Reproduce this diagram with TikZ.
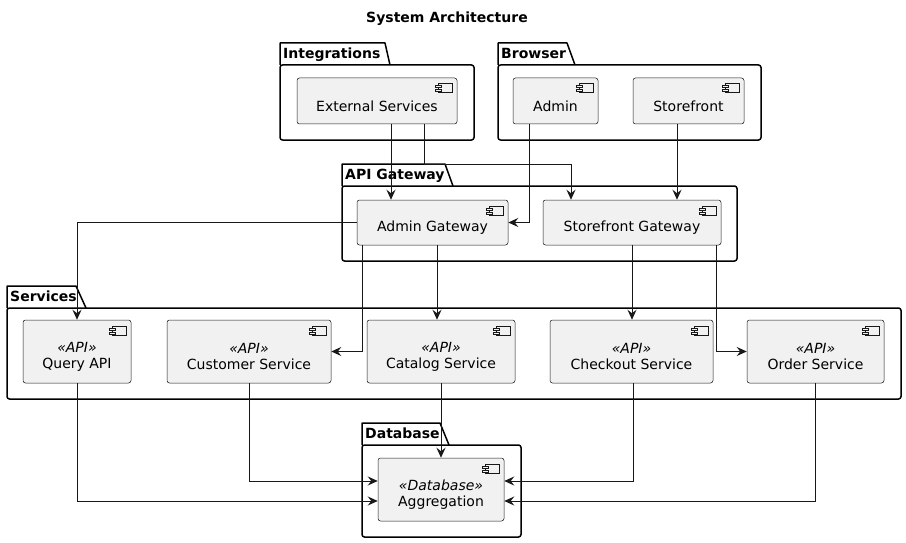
\documentclass[tikz,border=0pt]{standalone}
\usepackage{fontspec}
\setmainfont{DejaVu Sans}
\usetikzlibrary{arrows.meta}
\definecolor{compfill}{HTML}{F1F1F1}
\definecolor{ink}{HTML}{181818}
\tikzset{
  comp/.style={draw=ink, fill=compfill, line width=0.5pt, rounded corners=2.5pt, inner sep=0pt},
  txt/.style={inner sep=0pt, font=\fontsize{14pt}{16pt}\selectfont, align=center},
  pkgline/.style={draw=black, line width=1.5pt, line join=round},
  pkglabel/.style={inner sep=0pt, anchor=base west, font=\fontsize{14pt}{16pt}\selectfont\bfseries},
  conn/.style={draw=ink, line width=1pt, -{Stealth[length=10pt,width=9pt,inset=3.5pt]}},
  icon/.style={draw=ink, fill=compfill, line width=0.5pt}
}
\newcommand\compicon[1]{%
  \draw[icon] ([shift={(-19,6)}]#1.north east) rectangle ([shift={(-5,15)}]#1.north east);
  \draw[icon] ([shift={(-22,8)}]#1.north east) rectangle ([shift={(-16,10)}]#1.north east);
  \draw[icon] ([shift={(-22,12)}]#1.north east) rectangle ([shift={(-16,14)}]#1.north east);
}
\newcommand\pkgshape[8]{% x0 ytop ybody xt xs x1 ybot label
  \fill[white] (#1,#3) rectangle (#6,#7);
  \draw[pkgline] (#1,#3) -- (#1,#2) -- (#4,#2) -- (#5,#3);
  \draw[pkgline, rounded corners=2.5pt] (#1,#3) rectangle (#6,#7);
  \node[pkglabel] at (#1+3,#3-6.5) {#8};
}
\begin{document}
\begin{tikzpicture}[x=1pt,y=-1pt]
\useasboundingbox (0,0) rectangle (906,543);
\fill[white] (0,0) rectangle (906,543);

% title
\node[inner sep=0pt, anchor=base, font=\fontsize{14pt}{16pt}\selectfont\bfseries] (title) at (447,23) {System Architecture};

% packages
\pkgshape{280}{43}{65}{385}{390}{474}{140}{Integrations}
\pkgshape{498}{43}{65}{567}{575}{761}{140}{Browser}
\pkgshape{342}{164}{186}{445}{453}{737}{261}{API Gateway}
\pkgshape{7}{286}{308}{76}{86}{901}{399}{Services}
\pkgshape{362}{423}{445}{440}{449}{521}{537}{Database}

% components
\node[comp, minimum width=160pt, minimum height=46pt] (ext) at (377,101) {};
\node[comp, minimum width=85pt, minimum height=46pt] (admin) at (555.5,101) {};
\node[comp, minimum width=111pt, minimum height=46pt] (store) at (688.5,101) {};
\node[comp, minimum width=151pt, minimum height=45pt] (agw) at (432.5,222.5) {};
\node[comp, minimum width=178pt, minimum height=45pt] (sgw) at (632,222.5) {};
\node[comp, minimum width=108pt, minimum height=63pt] (query) at (77,351.5) {};
\node[comp, minimum width=164pt, minimum height=63pt] (cust) at (249,351.5) {};
\node[comp, minimum width=148pt, minimum height=63pt] (cat) at (441,351.5) {};
\node[comp, minimum width=163pt, minimum height=63pt] (chk) at (631.5,351.5) {};
\node[comp, minimum width=137pt, minimum height=63pt] (ord) at (815.5,351.5) {};
\node[comp, minimum width=126pt, minimum height=63pt] (agg) at (441,489.5) {};

\foreach \n in {ext,admin,store,agw,sgw,query,cust,cat,chk,ord,agg} {\compicon{\n}}

% texts
\node[txt] (extT) at ([yshift=-5pt]ext.center) {External Services};
\node[txt] (adminT) at ([yshift=-5pt]admin.center) {Admin};
\node[txt] (storeT) at ([yshift=-5pt]store.center) {Storefront};
\node[txt] (agwT) at ([yshift=-5pt]agw.center) {Admin Gateway};
\node[txt] (sgwT) at ([yshift=-5pt]sgw.center) {Storefront Gateway};
\node[txt] (queryT) at ([yshift=-5pt]query.center) {\textit{«API»}\\Query API};
\node[txt] (custT) at ([yshift=-5pt]cust.center) {\textit{«API»}\\Customer Service};
\node[txt] (catT) at ([yshift=-5pt]cat.center) {\textit{«API»}\\Catalog Service};
\node[txt] (chkT) at ([yshift=-5pt]chk.center) {\textit{«API»}\\Checkout Service};
\node[txt] (ordT) at ([yshift=-5pt]ord.center) {\textit{«API»}\\Order Service};
\node[txt] (aggT) at ([yshift=-5pt]agg.center) {\textit{«Database»}\\Aggregation};

% connectors
\draw[conn] ([xshift=14pt]ext.south) -- ([xshift=-41.5pt]agw.north);
\draw[conn] ([xshift=47pt]ext.south) -- ++(0,40) -| ([xshift=-61pt]sgw.north);
\draw[conn] ([xshift=-26.5pt]admin.south) |- (agw.east);
\draw[conn] ([xshift=-11.5pt]store.south) -- ([xshift=45pt]sgw.north);
\draw[conn] (agw.west) -| (query.north);
\draw[conn] ([xshift=-70.5pt]agw.south) |- (cust.east);
\draw[conn] ([xshift=4.5pt]agw.south) -- ([xshift=-4pt]cat.north);
\draw[conn] (sgw.south) -- (sgw.south |- chk.north);
\draw[conn] ([xshift=84pt]sgw.south) |- (ord.west);
\draw[conn] (query.south) |- ([yshift=-11.5pt]agg.west);
\draw[conn] (cust.south) |- ([yshift=8.5pt]agg.west);
\draw[conn] (cat.south) -- (agg.north);
\draw[conn] ([xshift=1.5pt]chk.south) |- ([yshift=8.5pt]agg.east);
\draw[conn] (ord.south) |- ([yshift=-11.5pt]agg.east);
\end{tikzpicture}
\end{document}
